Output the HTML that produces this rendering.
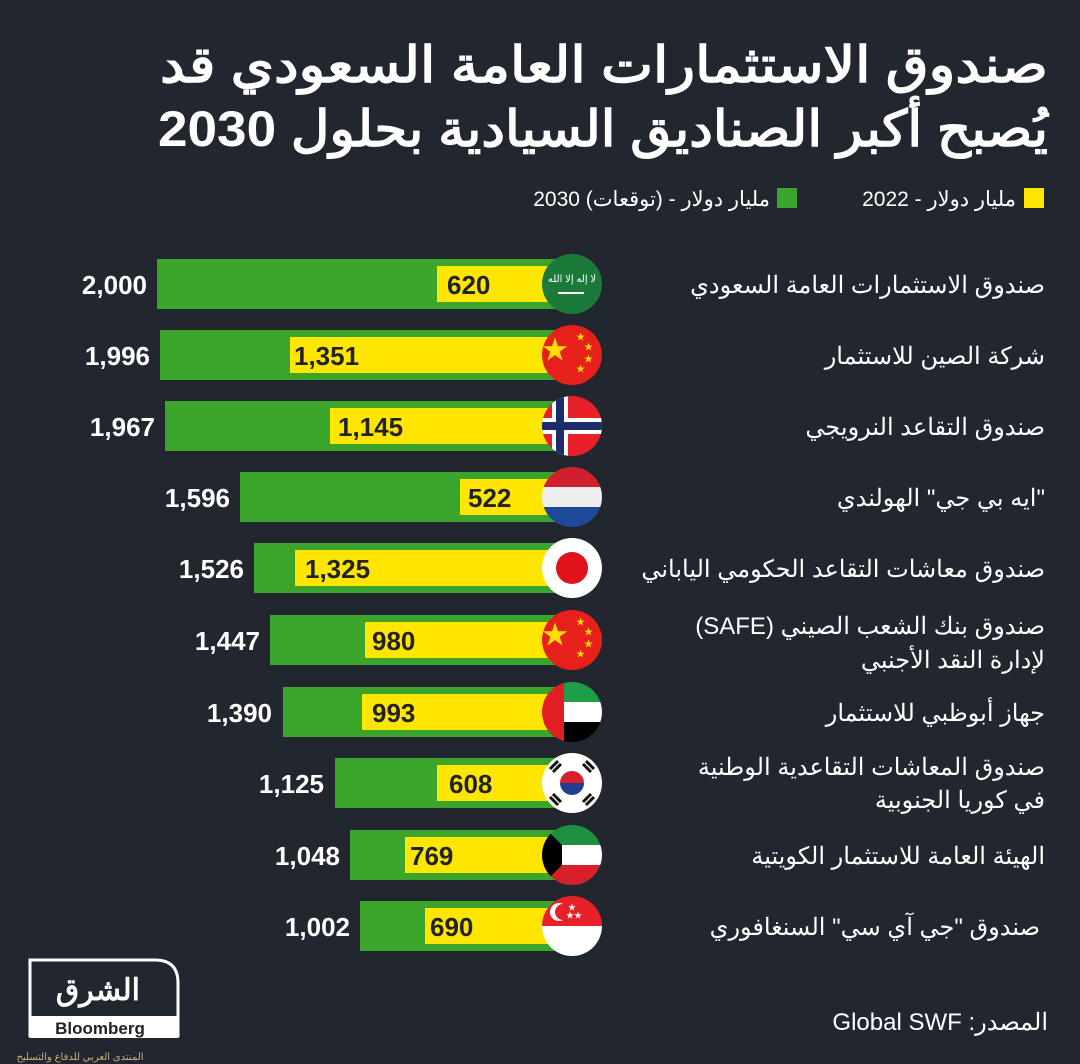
<!DOCTYPE html>
<html><head><meta charset="utf-8"><style>
html,body{margin:0;padding:0;background:#22262f;}
svg{display:block}
text{font-family:"Liberation Sans","Noto Sans CJK SC",sans-serif}
</style></head><body>
<svg width="1080" height="1064" viewBox="0 0 1080 1064" xmlns="http://www.w3.org/2000/svg">
<rect width="1080" height="1064" fill="#22262f"/>
<g fill="#fff" font-weight="bold" text-anchor="start" direction="rtl">
<text x="1048" y="82" font-size="50" textLength="888" lengthAdjust="spacingAndGlyphs" direction="rtl">صندوق الاستثمارات العامة السعودي قد</text>
<text x="1048" y="146" font-size="50" textLength="890" lengthAdjust="spacingAndGlyphs" direction="rtl">يُصبح أكبر الصناديق السيادية بحلول 2030</text>
</g>
<rect x="1024" y="188" width="20" height="20" fill="#ffe600"/>
<rect x="777" y="188" width="20" height="20" fill="#3aa52a"/>
<g fill="#fff" font-size="21" text-anchor="start" direction="rtl">
<text x="1016" y="206" direction="rtl">مليار دولار - 2022</text>
<text x="770" y="206" direction="rtl">مليار دولار - (توقعات) 2030</text>
</g>
<defs>
<clipPath id="c"><circle cx="0" cy="0" r="30"/></clipPath>
</defs>
<g font-weight="bold" font-size="26">
<rect x="157" y="259" width="415" height="50" fill="#3aa52a"/><rect x="437" y="266" width="135" height="36" fill="#ffe600"/>
<text x="447" y="294" fill="#222">620</text><text x="147" y="294" fill="#fff" text-anchor="end">2,000</text>
<rect x="160" y="330" width="412" height="50" fill="#3aa52a"/><rect x="290" y="337" width="282" height="36" fill="#ffe600"/>
<text x="294" y="365" fill="#222">1,351</text><text x="150" y="365" fill="#fff" text-anchor="end">1,996</text>
<rect x="165" y="401" width="407" height="50" fill="#3aa52a"/><rect x="330" y="408" width="242" height="36" fill="#ffe600"/>
<text x="338" y="436" fill="#222">1,145</text><text x="155" y="436" fill="#fff" text-anchor="end">1,967</text>
<rect x="240" y="472" width="332" height="50" fill="#3aa52a"/><rect x="460" y="479" width="112" height="36" fill="#ffe600"/>
<text x="468" y="507" fill="#222">522</text><text x="230" y="507" fill="#fff" text-anchor="end">1,596</text>
<rect x="254" y="543" width="318" height="50" fill="#3aa52a"/><rect x="295" y="550" width="277" height="36" fill="#ffe600"/>
<text x="305" y="578" fill="#222">1,325</text><text x="244" y="578" fill="#fff" text-anchor="end">1,526</text>
<rect x="270" y="615" width="302" height="50" fill="#3aa52a"/><rect x="365" y="622" width="207" height="36" fill="#ffe600"/>
<text x="372" y="650" fill="#222">980</text><text x="260" y="650" fill="#fff" text-anchor="end">1,447</text>
<rect x="283" y="687" width="289" height="50" fill="#3aa52a"/><rect x="362" y="694" width="210" height="36" fill="#ffe600"/>
<text x="372" y="722" fill="#222">993</text><text x="272" y="722" fill="#fff" text-anchor="end">1,390</text>
<rect x="335" y="758" width="237" height="50" fill="#3aa52a"/><rect x="437" y="765" width="135" height="36" fill="#ffe600"/>
<text x="449" y="793" fill="#222">608</text><text x="324" y="793" fill="#fff" text-anchor="end">1,125</text>
<rect x="350" y="830" width="222" height="50" fill="#3aa52a"/><rect x="405" y="837" width="167" height="36" fill="#ffe600"/>
<text x="410" y="865" fill="#222">769</text><text x="340" y="865" fill="#fff" text-anchor="end">1,048</text>
<rect x="360" y="901" width="212" height="50" fill="#3aa52a"/><rect x="425" y="908" width="147" height="36" fill="#ffe600"/>
<text x="430" y="936" fill="#222">690</text><text x="350" y="936" fill="#fff" text-anchor="end">1,002</text>
</g>
<g transform="translate(572,284)"><g clip-path="url(#c)"><rect x="-30" y="-30" width="60" height="60" fill="#1b7a3a"/>
<text x="0" y="-2" font-size="10" fill="#fff" text-anchor="middle">لا إله إلا الله</text><rect x="-14" y="8" width="26" height="2" fill="#fff"/></g></g>
<g transform="translate(572,355)"><g clip-path="url(#c)"><rect x="-30" y="-30" width="60" height="60" fill="#e8201c"/>
<text x="-17" y="4" font-size="26" fill="#ffde00" text-anchor="middle">★</text>
<text x="4" y="-15" font-size="9" fill="#ffde00">★</text><text x="12" y="-5" font-size="9" fill="#ffde00">★</text><text x="12" y="7" font-size="9" fill="#ffde00">★</text><text x="4" y="17" font-size="9" fill="#ffde00">★</text></g></g>
<g transform="translate(572,426)"><g clip-path="url(#c)"><rect x="-30" y="-30" width="60" height="60" fill="#e8202a"/>
<rect x="-20" y="-30" width="16" height="60" fill="#fff"/><rect x="-30" y="-8" width="60" height="16" fill="#fff"/>
<rect x="-16" y="-30" width="8" height="60" fill="#1b2e6b"/><rect x="-30" y="-4" width="60" height="8" fill="#1b2e6b"/></g></g>
<g transform="translate(572,497)"><g clip-path="url(#c)"><rect x="-30" y="-30" width="60" height="20" fill="#d01f2d"/><rect x="-30" y="-10" width="60" height="20" fill="#eee"/><rect x="-30" y="10" width="60" height="20" fill="#1f4a9a"/></g></g>
<g transform="translate(572,568)"><circle r="30" fill="#fff"/><circle r="16" fill="#e0121b"/></g>
<g transform="translate(572,640)"><g clip-path="url(#c)"><rect x="-30" y="-30" width="60" height="60" fill="#e8201c"/>
<text x="-17" y="4" font-size="26" fill="#ffde00" text-anchor="middle">★</text>
<text x="4" y="-15" font-size="9" fill="#ffde00">★</text><text x="12" y="-5" font-size="9" fill="#ffde00">★</text><text x="12" y="7" font-size="9" fill="#ffde00">★</text><text x="4" y="17" font-size="9" fill="#ffde00">★</text></g></g>
<g transform="translate(572,712)"><g clip-path="url(#c)"><rect x="-30" y="-30" width="60" height="20" fill="#1f9e45"/><rect x="-30" y="-10" width="60" height="20" fill="#fff"/><rect x="-30" y="10" width="60" height="20" fill="#000"/><rect x="-30" y="-30" width="22" height="60" fill="#e01e23"/></g></g>
<g transform="translate(572,783)"><circle r="30" fill="#fff"/><path d="M-12,0 a12,12 0 0 1 24,0z" fill="#d8202a"/><path d="M-12,0 a12,12 0 0 0 24,0z" fill="#1f3f91"/>
<g stroke="#111" stroke-width="3"><path d="M-22,-14 l8,-8 M-19,-11 l8,-8 M14,22 l8,-8 M11,19 l8,-8 M14,-22 l8,8 M11,-19 l8,8 M-22,14 l8,8 M-19,11 l8,8"/></g></g>
<g transform="translate(572,855)"><g clip-path="url(#c)"><rect x="-30" y="-30" width="60" height="20" fill="#1f9040"/><rect x="-30" y="-10" width="60" height="20" fill="#fff"/><rect x="-30" y="10" width="60" height="20" fill="#d8202a"/><path d="M-30,-30 L-10,-10 L-10,10 L-30,30z" fill="#000"/></g></g>
<g transform="translate(572,926)"><g clip-path="url(#c)"><rect x="-30" y="-30" width="60" height="30" fill="#e8202a"/><rect x="-30" y="0" width="60" height="30" fill="#fff"/>
<circle cx="-13" cy="-14" r="9" fill="#fff"/><circle cx="-9" cy="-14" r="8" fill="#e8202a"/>
<text x="-6" y="-8" font-size="8" fill="#fff">★★</text><text x="-4" y="-16" font-size="8" fill="#fff">★</text></g></g>
<g fill="#fff" font-size="24" text-anchor="start" direction="rtl">
<text x="1045" y="293" direction="rtl">صندوق الاستثمارات العامة السعودي</text>
<text x="1045" y="364" direction="rtl">شركة الصين للاستثمار</text>
<text x="1045" y="435" direction="rtl">صندوق التقاعد النرويجي</text>
<text x="1045" y="506" direction="rtl">"ايه بي جي" الهولندي</text>
<text x="1045" y="577" direction="rtl">صندوق معاشات التقاعد الحكومي الياباني</text>
<text x="1045" y="634" direction="rtl">صندوق بنك الشعب الصيني (SAFE)</text>
<text x="1045" y="668" direction="rtl">لإدارة النقد الأجنبي</text>
<text x="1045" y="721" direction="rtl">جهاز أبوظبي للاستثمار</text>
<text x="1045" y="775" direction="rtl">صندوق المعاشات التقاعدية الوطنية</text>
<text x="1045" y="808" direction="rtl">في كوريا الجنوبية</text>
<text x="1045" y="864" direction="rtl">الهيئة العامة للاستثمار الكويتية</text>
<text x="1040" y="935" direction="rtl">صندوق "جي آي سي" السنغافوري</text>
<text x="1048" y="1030" direction="rtl">المصدر: Global SWF</text>
</g>
<path d="M30,1036 L30,960 L155,960 Q178,960 178,983 L178,1036 Z" fill="none" stroke="#fff" stroke-width="3"/>
<rect x="30" y="1016" width="148" height="22" fill="#fff"/>
<text x="140" y="1000" font-size="30" font-weight="bold" fill="#fff" text-anchor="end">الشرق</text>
<text x="100" y="1034" font-size="17" font-weight="bold" fill="#222" text-anchor="middle">Bloomberg</text>
<text x="80" y="1060" font-size="10" fill="#c9b07a" text-anchor="middle">المنتدى العربي للدفاع والتسليح</text>
</svg>
</body></html>
